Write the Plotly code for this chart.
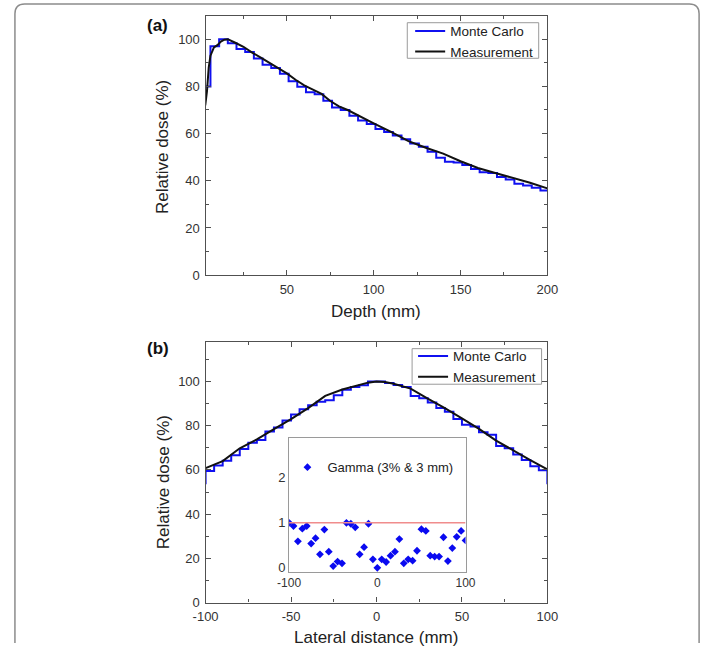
import plotly.graph_objects as go

# ---------------- data ----------------
# (a) depth dose
depth_meas = [3, 4, 5, 6, 8, 10, 12, 14, 16, 18, 20, 25, 30, 35, 40, 45, 50, 55, 60, 65, 70,
              75, 80, 85, 90, 95, 100, 110, 120, 130, 140, 150, 160, 170, 180, 190, 200]
dose_meas_a = [72, 78, 88, 93, 96.5, 97.5, 99, 99.8, 100, 99.4, 98.6, 96.8, 94.3, 92.2, 90, 88,
               85.5, 82.8, 80.4, 78.6, 76.8, 73.8, 71.5, 70, 68, 66.2, 64.3, 60.7, 56.8, 54,
               51.5, 48.3, 45.4, 43.3, 41.4, 39.2, 36.8]
depth_mc_edges = [1, 6, 11, 16, 21, 26, 31, 36, 41, 46, 51, 56, 61, 66, 71, 76, 81, 86, 91, 96,
                  101, 106, 111, 116, 121, 126, 131, 136, 141, 146, 151, 156, 161, 166, 171,
                  176, 181, 186, 191, 196, 200]
dose_mc_a = [80, 97, 100, 98.3, 95.8, 94.6, 91.8, 89.2, 87.8, 85.4, 82.2, 79.9, 77.5, 76.7,
             73.9, 71.1, 70, 67.6, 65.5, 64.1, 62, 60.7, 59.2, 57.6, 55.8, 54.4, 52.3, 49.8,
             48.1, 47.8, 46.7, 45, 43.6, 43.3, 41.6, 40.5, 38.8, 38, 37, 35.9]
depth_ticks = [50, 100, 150, 200]
dose_ticks = [0, 20, 40, 60, 80, 100]

# (b) lateral profile
lat_meas = [-100, -90, -80, -70, -60, -50, -40, -30, -20, -10, -5, 0, 5, 10, 20, 30, 40, 50,
            60, 70, 80, 90, 100]
dose_meas_b = [60.8, 64, 69.8, 73.8, 78.5, 83, 88, 93.5, 96.4, 98.6, 99.5, 100, 99.8, 99,
               96.8, 92.3, 88, 83.3, 78.6, 73.3, 68.8, 64.4, 60.3]
lat_mc_edges = [-105, -100, -95, -90, -85, -80, -75, -70, -65, -60, -55, -50, -45, -40, -35,
                -30, -25, -20, -15, -10, -5, 0, 5, 10, 15, 20, 25, 30, 35, 40, 45, 50, 55,
                60, 65, 70, 75, 80, 85, 90, 95, 100, 105]
dose_mc_b = [54, 59.5, 62, 64.2, 66.6, 69.5, 72.3, 73.5, 77.4, 79.2, 82.4, 85.1, 87.4, 89.3,
             90.9, 91.5, 93.8, 96.3, 97.5, 98.3, 100, 100, 99.3, 98.4, 97.5, 93.5, 92.4, 90.5,
             88, 86.3, 83, 80.4, 79.7, 77, 75.9, 70.8, 69.8, 67, 64.5, 61.7, 59.8, 54]
lat_ticks = [-100, -50, 0, 50, 100]
lat_ticktext = ["-100", "-50", "0", "50", "100"]

# inset gamma
gamma_x = [-100, -95, -90, -85, -80, -75, -70, -65, -60, -55, -50, -45, -40, -35, -30, -25,
           -20, -15, -10, -5, 0, 5, 10, 15, 20, 25, 30, 35, 40, 45, 50, 55, 60, 65, 70, 75,
           80, 85, 90, 95, 100]
gamma_v = [1.0, 0.93, 0.59, 0.87, 0.93, 0.54, 0.66, 0.30, 0.85, 0.36, 0.04, 0.14, 0.10, 1.0,
           0.98, 0.90, 0.30, 0.46, 0.98, 0.19, 0.0, 0.19, 0.13, 0.27, 0.36, 0.64, 0.10, 0.19,
           0.16, 0.38, 0.86, 0.82, 0.27, 0.25, 0.25, 0.68, 0.15, 0.44, 0.69, 0.82, 0.61]
gamma_threshold = 1
inset_xticks = [-100, 0, 100]
inset_xticktext = ["-100", "0", "100"]
inset_yticks = [0, 1, 2]

# ---------------- layout helpers ----------------
W, H = 713, 652
def px(x):
    return x / W
def py(y):
    return 1 - y / H

FONT = "Arial, Liberation Sans, sans-serif"
BLUE = "#1010f0"
BLACK = "#111111"
AX = "#505050"

fig = go.Figure()

fig.add_trace(go.Scatter(x=depth_mc_edges, y=dose_mc_a + [dose_mc_a[-1]], mode="lines",
                         line=dict(color=BLUE, width=2, shape="hv"), name="Monte Carlo",
                         xaxis="x", yaxis="y", legend="legend"))
fig.add_trace(go.Scatter(x=depth_meas, y=dose_meas_a, mode="lines",
                         line=dict(color=BLACK, width=2), name="Measurement",
                         xaxis="x", yaxis="y", legend="legend"))

fig.add_trace(go.Scatter(x=lat_mc_edges, y=dose_mc_b + [dose_mc_b[-1]], mode="lines",
                         line=dict(color=BLUE, width=2, shape="hv"), name="Monte Carlo",
                         xaxis="x2", yaxis="y2", legend="legend2"))
fig.add_trace(go.Scatter(x=lat_meas, y=dose_meas_b, mode="lines",
                         line=dict(color=BLACK, width=2), name="Measurement",
                         xaxis="x2", yaxis="y2", legend="legend2"))

fig.add_trace(go.Scatter(x=gamma_x, y=gamma_v, mode="markers",
                         marker=dict(symbol="diamond", size=6, color="#0a0af0"),
                         name="Gamma (3% &amp; 3 mm)", xaxis="x3", yaxis="y3", legend="legend3"))

def main_axis(**kw):
    d = dict(showline=True, linecolor=AX, linewidth=1.3, mirror="ticks", ticks="inside",
             ticklen=5, tickwidth=1, tickcolor=AX, showgrid=False, zeroline=False,
             ticklabelstandoff=2,
             tickfont=dict(family=FONT, size=13, color="#333"))
    d.update(kw)
    return d

legend_font = dict(family=FONT, size=13.5, color="#222")

fig.update_layout(
    width=W, height=H, margin=dict(l=0, r=0, t=0, b=0),
    paper_bgcolor="white", plot_bgcolor="white",
    font=dict(family=FONT, color="#222"),
    xaxis=main_axis(domain=[px(199.3), px(553)], anchor="y", range=[3.2, 200],
                    tickvals=depth_ticks,
                    minor=dict(ticks="inside", ticklen=3, tickcolor=AX, tickvals=[25, 75, 125, 175])),
    yaxis=main_axis(domain=[py(278.6), py(15.8)], anchor="x", range=[0, 110],
                    tickvals=dose_ticks,
                    minor=dict(ticks="inside", ticklen=3, tickcolor=AX, tickvals=[10, 30, 50, 70, 90])),
    xaxis2=main_axis(domain=[px(199.3), px(553)], anchor="y2", range=[-100, 100],
                     tickvals=lat_ticks, ticktext=lat_ticktext,
                     minor=dict(ticks="inside", ticklen=3, tickcolor=AX, tickvals=[-75, -25, 25, 75])),
    yaxis2=main_axis(domain=[py(610), py(346)], anchor="x2", range=[0, 118],
                     tickvals=dose_ticks,
                     minor=dict(ticks="inside", ticklen=3, tickcolor=AX, tickvals=[10, 30, 50, 70, 90, 110])),
    xaxis3=dict(domain=[px(285.7), px(468.3)], anchor="y3", range=[-100, 100],
                tickvals=inset_xticks, ticktext=inset_xticktext, showline=True, mirror=True,
                linecolor="#9a9a9a", linewidth=1.2, ticks="", showgrid=False, zeroline=False,
                tickfont=dict(family=FONT, size=12, color="#333")),
    yaxis3=dict(domain=[py(579), py(443.3)], anchor="x3", range=[-0.09, 2.89],
                tickvals=inset_yticks, showline=True, mirror=True, linecolor="#9a9a9a",
                linewidth=1.2, ticks="", showgrid=False, zeroline=False,
                tickfont=dict(family=FONT, size=13, color="#333")),
    legend=dict(x=px(411), y=py(42.2), xanchor="left", yanchor="middle",
                bgcolor="rgba(0,0,0,0)", borderwidth=0, font=legend_font),
    legend2=dict(x=px(414), y=py(371.4), xanchor="left", yanchor="middle",
                 bgcolor="rgba(0,0,0,0)", borderwidth=0, font=legend_font),
    legend3=dict(x=px(284), y=py(473), xanchor="left", yanchor="middle",
                 bgcolor="rgba(0,0,0,0)", borderwidth=0, font=dict(family=FONT, size=13, color="#222")),
    showlegend=True,
)

fig.add_shape(type="line", xref="x3", yref="y3", x0=-100, x1=100,
              y0=gamma_threshold, y1=gamma_threshold, line=dict(color="#f08c8c", width=1.5))

# legend frames
for (x0, y0, x1, y1) in [(408, 23, 544, 59), (413, 353, 547, 389)]:
    fig.add_shape(type="rect", xref="paper", yref="paper", x0=px(x0), x1=px(x1),
                  y0=py(y1), y1=py(y0), line=dict(color="#9a9a9a", width=1),
                  fillcolor="white", layer="below")

# figure frame
def P(x, y):
    return f"{px(x):.5f},{py(y):.5f}"
frame_path = (f"M {P(2, 651)} L {P(2, 14)} Q {P(2, 4)} {P(12, 4)} L {P(700, 4)} "
              f"Q {P(710, 4)} {P(710, 14)} L {P(710, 651)}")
fig.add_shape(type="path", xref="paper", yref="paper", path=frame_path,
              line=dict(color="#8c8c8c", width=1.5))

ann = [
    ("<b>(a)</b>", 150, 26, 0, "middle"),
    ("<b>(b)</b>", 150, 352.6, 0, "middle"),
    ("Relative dose (%)", 154, 149, -90, "middle"),
    ("Relative dose (%)", 156, 488.5, -90, "middle"),
    ("Depth (mm)", 376, 315, 0, "middle"),
    ("Lateral distance (mm)", 376, 633.5, 0, "top"),
]
for t, x, y, ang, ya in ann:
    fig.add_annotation(text=t, xref="paper", yref="paper", showarrow=False,
                       x=px(x), y=py(y), xanchor="center", yanchor=ya, textangle=ang,
                       font=dict(family=FONT, size=17, color="#111" if t.startswith("<b>") else "#222"))

fig.write_html("out.html")
